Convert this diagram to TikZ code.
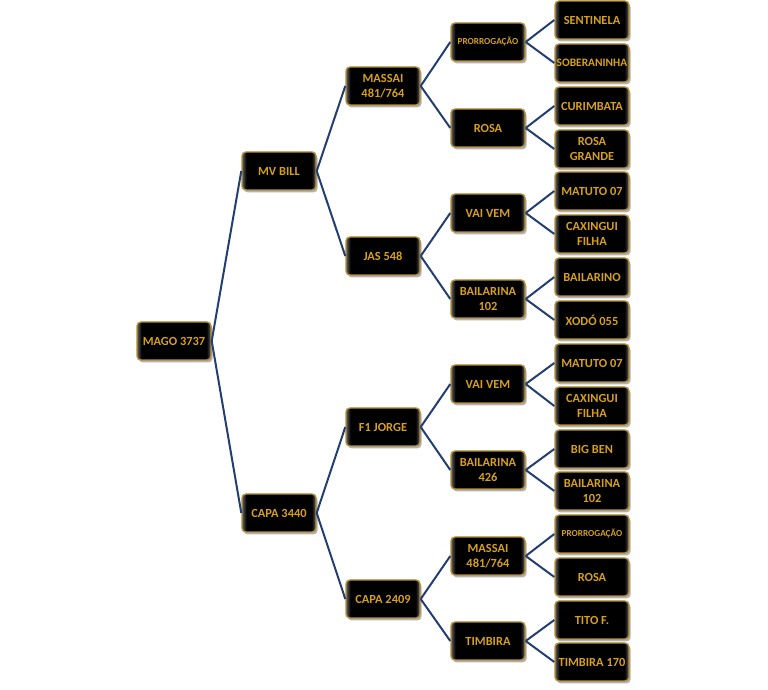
\documentclass[tikz,border=0pt]{standalone}
\usepackage{fontspec}
\setmainfont{Carlito}
\usetikzlibrary{shadows}
\definecolor{gold}{RGB}{214,160,30}
\definecolor{goldline}{RGB}{180,142,52}
\definecolor{linkblue}{RGB}{35,62,112}
\pgfdeclarehorizontalshading{glossy}{100bp}{color(0bp)=(black!62); color(25bp)=(black!62); color(28bp)=(black); color(72bp)=(black); color(75bp)=(black!62); color(100bp)=(black!62)}

\begin{document}
\begin{tikzpicture}[x=0.5pt, y=-0.5pt,
  horse/.style={draw=goldline, line width=0.7pt, rounded corners=2pt, shading=glossy, minimum width=37pt, minimum height=19pt, inner sep=0.5pt, align=center, text=gold, font=\fontsize{6.2}{7.3}\selectfont\bfseries, drop shadow={shadow xshift=0.8pt, shadow yshift=-1.2pt, opacity=0.3, fill=black}},
  tiny/.style={horse, font=\fontsize{4.6}{5}\selectfont\bfseries},
  squeeze/.style={horse, font=\fontsize{5.7}{6.5}\selectfont\bfseries},
  link/.style={draw=linkblue, line width=1pt}
]
\useasboundingbox (0,0) rectangle (768,690);

% generation 0 and 1
\node[horse] (mago) at (174,341) {MAGO 3737};
\node[horse] (mvbill) at (279,171) {MV BILL};
\node[horse] (capa3440) at (279,513) {CAPA 3440};

% generation 2
\node[horse] (massai) at (383,86) {MASSAI\\481/764};
\node[horse] (jas) at (383,256) {JAS 548};
\node[horse] (fjorge) at (383,427) {F1 JORGE};
\node[horse] (capa2409) at (383,599) {CAPA 2409};

% generation 3
\node[tiny] (prorrog) at (488,42) {PRORROGAÇÃO};
\node[horse] (rosa) at (488,128) {ROSA};
\node[horse] (vaivem) at (488,213) {VAI VEM};
\node[horse] (bail102) at (488,299) {BAILARINA\\102};
\node[horse] (vaivemb) at (488,384) {VAI VEM};
\node[horse] (bail426) at (488,470) {BAILARINA\\426};
\node[horse] (massaib) at (488,556) {MASSAI\\481/764};
\node[horse] (timbira) at (488,641) {TIMBIRA};

% generation 4
\node[horse] (sentinela) at (592,20) {SENTINELA};
\node[squeeze] (soberaninha) at (592,63) {SOBERANINHA};
\node[horse] (curimbata) at (592,106) {CURIMBATA};
\node[horse] (rosagrande) at (592,149) {ROSA\\GRANDE};
\node[horse] (matuto) at (592,191) {MATUTO 07};
\node[horse] (caxingui) at (592,234) {CAXINGUI\\FILHA};
\node[horse] (bailarino) at (592,277) {BAILARINO};
\node[horse] (xodo) at (592,320) {XODÓ 055};
\node[horse] (matutob) at (592,363) {MATUTO 07};
\node[horse] (caxinguib) at (592,406) {CAXINGUI\\FILHA};
\node[horse] (bigben) at (592,449) {BIG BEN};
\node[horse] (bail102b) at (592,491) {BAILARINA\\102};
\node[tiny] (prorrogb) at (592,534) {PRORROGAÇÃO};
\node[horse] (rosab) at (592,577) {ROSA};
\node[horse] (tito) at (592,620) {TITO F.};
\node[horse] (timbira170) at (592,662) {TIMBIRA 170};

\draw[link] (mago.east) -- (mvbill.west) (mago.east) -- (capa3440.west);
\draw[link] (mvbill.east) -- (massai.west) (mvbill.east) -- (jas.west);
\draw[link] (capa3440.east) -- (fjorge.west) (capa3440.east) -- (capa2409.west);
\draw[link] (massai.east) -- (prorrog.west) (massai.east) -- (rosa.west);
\draw[link] (jas.east) -- (vaivem.west) (jas.east) -- (bail102.west);
\draw[link] (fjorge.east) -- (vaivemb.west) (fjorge.east) -- (bail426.west);
\draw[link] (capa2409.east) -- (massaib.west) (capa2409.east) -- (timbira.west);
\draw[link] (prorrog.east) -- (sentinela.west) (prorrog.east) -- (soberaninha.west);
\draw[link] (rosa.east) -- (curimbata.west) (rosa.east) -- (rosagrande.west);
\draw[link] (vaivem.east) -- (matuto.west) (vaivem.east) -- (caxingui.west);
\draw[link] (bail102.east) -- (bailarino.west) (bail102.east) -- (xodo.west);
\draw[link] (vaivemb.east) -- (matutob.west) (vaivemb.east) -- (caxinguib.west);
\draw[link] (bail426.east) -- (bigben.west) (bail426.east) -- (bail102b.west);
\draw[link] (massaib.east) -- (prorrogb.west) (massaib.east) -- (rosab.west);
\draw[link] (timbira.east) -- (tito.west) (timbira.east) -- (timbira170.west);

\end{tikzpicture}
\end{document}
